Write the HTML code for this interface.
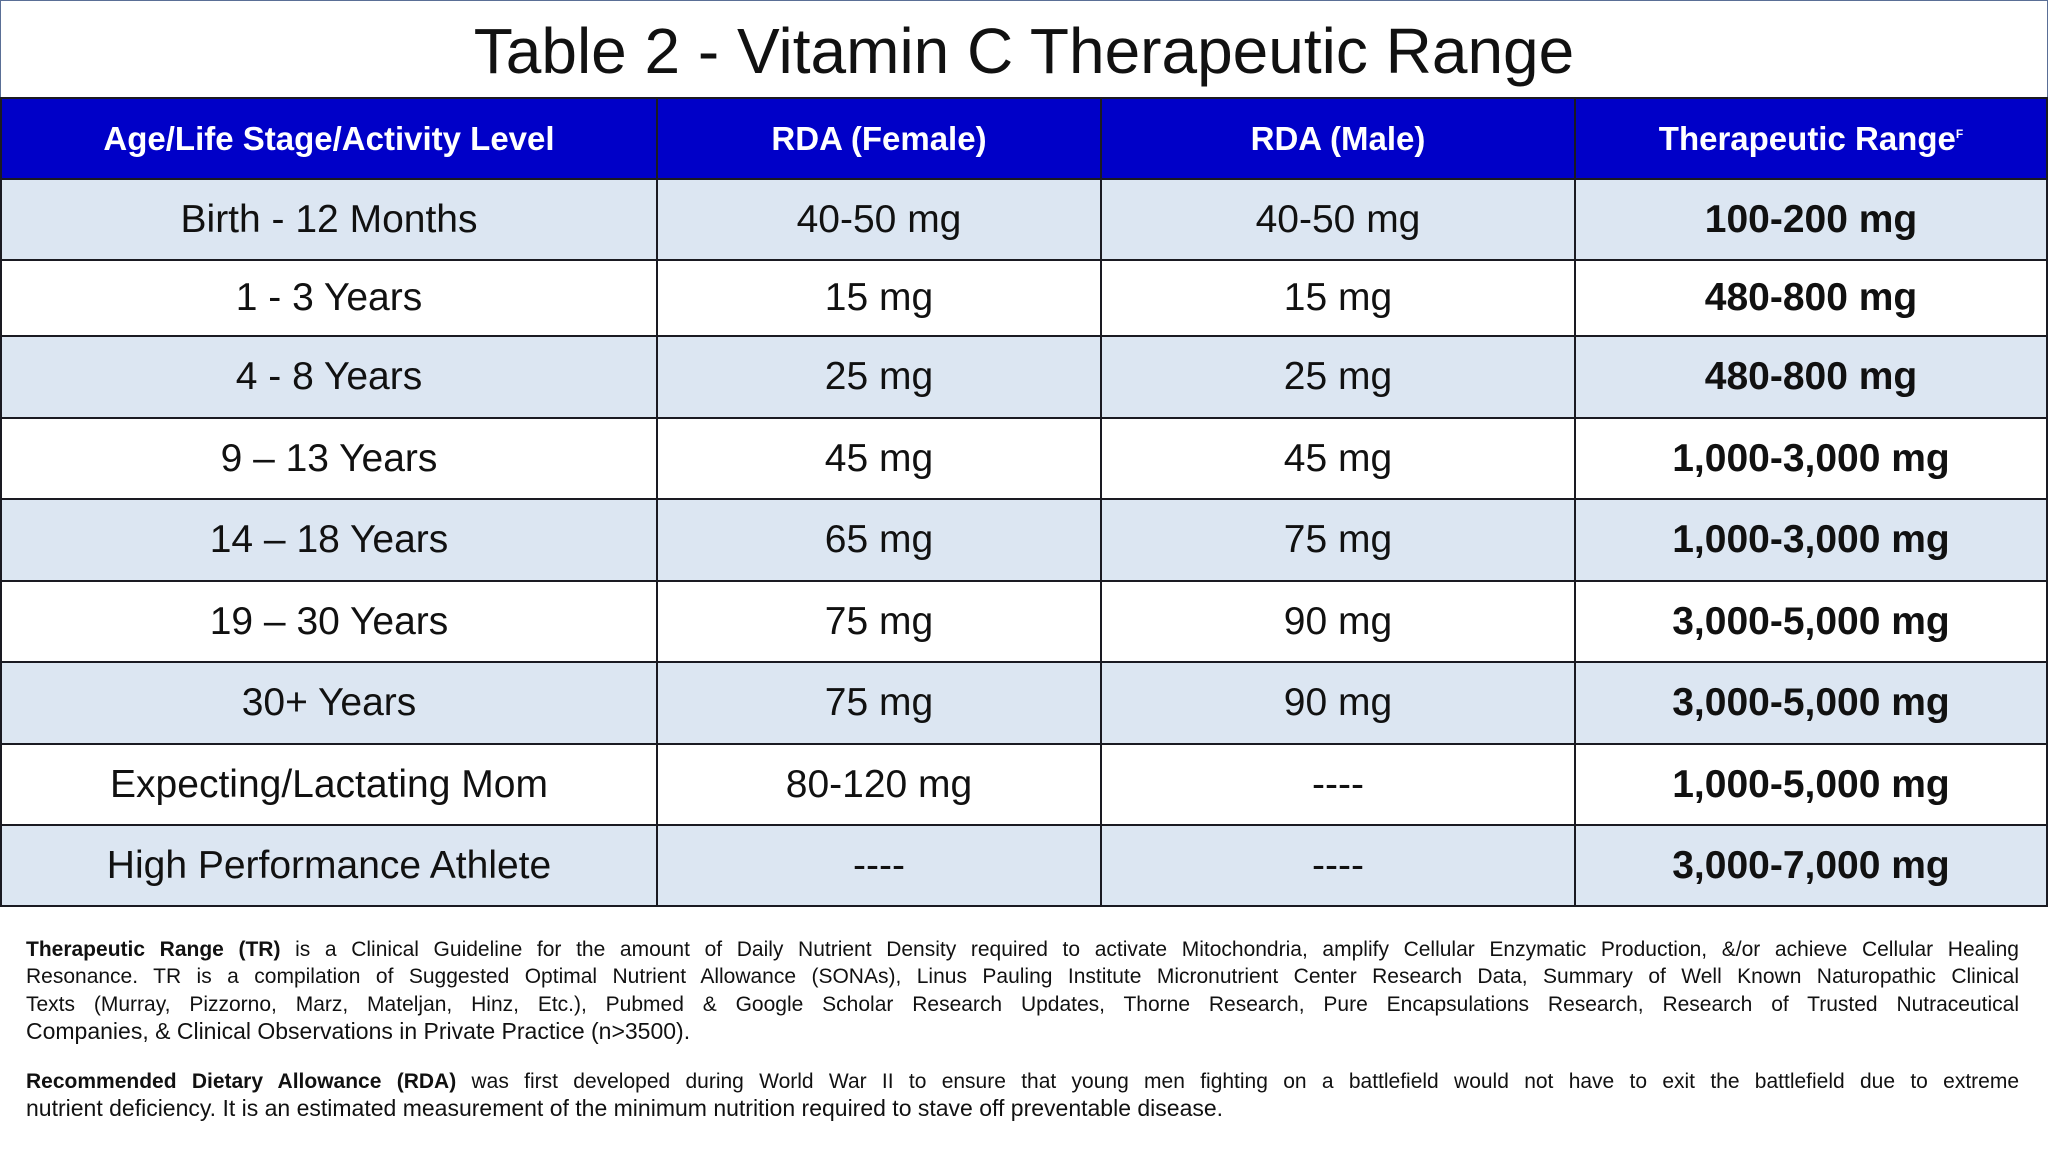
<!DOCTYPE html>
<html><head><meta charset="utf-8"><style>
body{margin:0;width:2048px;height:1152px;background:#fff;font-family:"Liberation Sans","DejaVu Sans",sans-serif;position:relative;overflow:hidden}
#title{position:absolute;left:0;top:0;width:2046px;height:97px;border:1px solid #5a6f96;border-bottom:none;text-align:center;font-size:64px;line-height:100px;color:#111}
table{position:absolute;left:0;top:97px;border-collapse:collapse;width:2046px;table-layout:fixed}
td,th{border:2px solid #1a1a22;text-align:center;padding:0;font-size:39px;color:#111}
th{background:#0000c8;color:#fff;font-size:33px;height:79px}
tr.l td{background:#dce6f2}
td.b{font-weight:bold}
#notes{position:absolute;left:26px;top:936px;width:1993px;font-size:21px;line-height:27.4px;color:#111}
.j{text-align:justify;text-align-last:justify;white-space:nowrap;overflow:hidden}
.n{white-space:nowrap;font-size:23px}
</style></head><body>
<div id="title">Table 2 - Vitamin C Therapeutic Range</div>
<table>
<colgroup><col style="width:656px"><col style="width:444px"><col style="width:474px"><col style="width:472px"></colgroup>
<tr><th>Age/Life Stage/Activity Level</th><th>RDA (Female)</th><th>RDA (Male)</th><th>Therapeutic Range<sup style="font-size:12px">F</sup></th></tr>
<tr class="l" style="height:81px"><td>Birth - 12 Months</td><td>40-50 mg</td><td>40-50 mg</td><td class="b">100-200 mg</td></tr>
<tr style="height:76px"><td>1 - 3 Years</td><td>15 mg</td><td>15 mg</td><td class="b">480-800 mg</td></tr>
<tr class="l" style="height:82px"><td>4 - 8 Years</td><td>25 mg</td><td>25 mg</td><td class="b">480-800 mg</td></tr>
<tr style="height:81px"><td>9 – 13 Years</td><td>45 mg</td><td>45 mg</td><td class="b">1,000-3,000 mg</td></tr>
<tr class="l" style="height:82px"><td>14 – 18 Years</td><td>65 mg</td><td>75 mg</td><td class="b">1,000-3,000 mg</td></tr>
<tr style="height:81px"><td>19 – 30 Years</td><td>75 mg</td><td>90 mg</td><td class="b">3,000-5,000 mg</td></tr>
<tr class="l" style="height:82px"><td>30+ Years</td><td>75 mg</td><td>90 mg</td><td class="b">3,000-5,000 mg</td></tr>
<tr style="height:81px"><td>Expecting/Lactating Mom</td><td>80-120 mg</td><td>----</td><td class="b">1,000-5,000 mg</td></tr>
<tr class="l" style="height:81px"><td>High Performance Athlete</td><td>----</td><td>----</td><td class="b">3,000-7,000 mg</td></tr>
</table>
<div id="notes">
<div class="j"><b>Therapeutic Range (TR)</b> is a Clinical Guideline for the amount of Daily Nutrient Density required to activate Mitochondria, amplify Cellular Enzymatic Production, &amp;/or achieve Cellular Healing</div>
<div class="j">Resonance. TR is a compilation of Suggested Optimal Nutrient Allowance (SONAs), Linus Pauling Institute Micronutrient Center Research Data, Summary of Well Known Naturopathic Clinical</div>
<div class="j">Texts (Murray, Pizzorno, Marz, Mateljan, Hinz, Etc.), Pubmed &amp; Google Scholar Research Updates, Thorne Research, Pure Encapsulations Research, Research of Trusted Nutraceutical</div>
<div class="n">Companies, &amp; Clinical Observations in Private Practice (n&gt;3500).</div>
<div style="height:22px"></div>
<div class="j"><b>Recommended Dietary Allowance (RDA)</b> was first developed during World War II to ensure that young men fighting on a battlefield would not have to exit the battlefield due to extreme</div>
<div class="n">nutrient deficiency. It is an estimated measurement of the minimum nutrition required to stave off preventable disease.</div>
</div>
</body></html>
